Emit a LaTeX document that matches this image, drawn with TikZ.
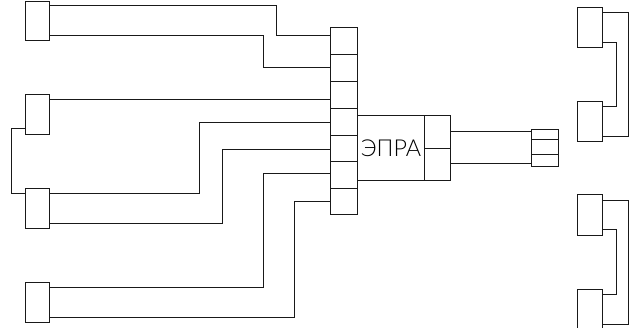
\documentclass[tikz,border=0pt]{standalone}
\usepackage{fontspec}
\setmainfont{Lato Light}
\begin{document}
\begin{tikzpicture}[x=0.75pt,y=-0.75pt,
  box/.style={draw=black!90,line width=0.75pt,fill=white,minimum width=0pt,inner sep=0pt},
  wire/.style={draw=black!90,line width=0.75pt,line join=miter}]
\useasboundingbox (0,0) rectangle (639,328);
\clip (0,0) rectangle (639,328);
% left lamps
\foreach \n/\a/\b in {la/1.5/40.5,lb/94.5/134.5,lc/188.5/228.5,ld/282.5/322.5}{
  \coordinate (\n1) at (25.5,\a); \coordinate (\n2) at (49.5,\b);
  \draw[box] (\n1) rectangle (\n2);
}
% right lamps
\foreach \n/\a/\b in {ra/7.5/47.5,rb/101.5/141.5,rc/194.5/235.5,rd/289.5/330}{
  \coordinate (\n1) at (577.5,\a); \coordinate (\n2) at (602.5,\b);
  \draw[box] (\n1) rectangle (\n2);
}
% terminal strip
\foreach \i/\a/\b in {1/27.5/54.5,2/54.5/81.5,3/81.5/108.5,4/108.5/135.5,5/135.5/161.5,6/161.5/188.5,7/188.5/214.5}{
  \draw[box] (330.5,\a) rectangle (357.5,\b);
}
% ballast
\draw[box] (357.5,115.5) rectangle (450.5,180.5);
\draw[wire] (424.5,115.5) -- (424.5,180.5);
\draw[wire] (424.5,148.5) -- (450.5,148.5);
\node[inner sep=0pt,font=\fontsize{17.5pt}{19pt}\selectfont] (epra) at (391,148) {ЭПРА};
% output connector
\draw[box] (531.5,129.5) rectangle (558.5,166.5);
\draw[wire] (531.5,139.5) -- (558.5,139.5);
\draw[wire] (531.5,154.5) -- (558.5,154.5);
% left wiring
\draw[wire] (49.5,5.5) -| (276.5,35.5) -- (330.5,35.5);
\draw[wire] (49.5,35.5) -| (263.5,67.5) -- (330.5,67.5);
\draw[wire] (49.5,99.5) -- (330.5,99.5);
\draw[wire] (25.5,128.5) -| (11.5,193.5) -- (25.5,193.5);
\draw[wire] (49.5,193.5) -| (199.5,122.5) -- (330.5,122.5);
\draw[wire] (49.5,223.5) -| (222.5,149.5) -- (330.5,149.5);
\draw[wire] (49.5,287.5) -| (263.5,173.5) -- (330.5,173.5);
\draw[wire] (49.5,317.5) -| (294.5,201.5) -- (330.5,201.5);
% output wiring
\draw[wire] (450.5,131.5) -- (531.5,131.5);
\draw[wire] (450.5,163.5) -- (531.5,163.5);
% right wiring
\draw[wire] (602.5,12.5) -| (628.5,136.5) -- (602.5,136.5);
\draw[wire] (602.5,42.5) -| (616.5,106.5) -- (602.5,106.5);
\draw[wire] (602.5,200.5) -| (628.5,324.5) -- (602.5,324.5);
\draw[wire] (602.5,229.5) -| (616.5,294.5) -- (602.5,294.5);
\end{tikzpicture}
\end{document}
